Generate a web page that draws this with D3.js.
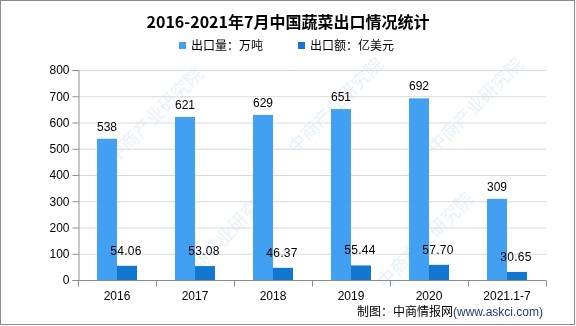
<!DOCTYPE html>
<html><head><meta charset="utf-8">
<script src="https://cdn.jsdelivr.net/npm/d3@7"></script>
<style>body{margin:0;background:#fff}svg{display:block}</style>
</head><body>
<svg id="c" width="576" height="326"></svg>
<script>
const categories = ["2016","2017","2018","2019","2020","2021.1-7"];
const volume = [538,621,629,651,692,309];
const value = [54.06,53.08,46.37,55.44,57.70,30.65];
const valueLabels = ["54.06","53.08","46.37","55.44","57.70","30.65"];
const yTicks = [0,100,200,300,400,500,600,700,800];
const seriesNames = ["出口量：万吨","出口额：亿美元"];
const title = "2016-2021年7月中国蔬菜出口情况统计";

const svg = d3.select("#c");
const W = 576, H = 326;
const m = {l:78, r:30, t:70, b:46};
const colors = ["#41a0f2","#1177d1"];
const font = "'Liberation Sans', Arial, sans-serif";
const cjk = "'Noto Sans CJK SC', sans-serif";

// watermarks
const wm = [[160,120],[230,240],[430,245],[340,110],[480,110]];
const wg = svg.append("g").attr("opacity",0.13);
wm.forEach(([x,y])=>{
  wg.append("text").attr("transform",`translate(${x},${y}) rotate(-45)`)
    .attr("text-anchor","middle").attr("font-family",cjk)
    .attr("font-size",18).attr("fill","#3a8fd0").text("中商产业研究院");
});

const x = d3.scaleBand().domain(categories).range([m.l, W-m.r]).paddingInner(0).paddingOuter(0);
const y = d3.scaleLinear().domain([0,800]).range([H-m.b, m.t]);
const bw = 20;

// grid
svg.append("g").selectAll("line").data(yTicks.slice(1)).join("line")
  .attr("x1",m.l).attr("x2",W-m.r).attr("y1",d=>y(d)+0.5).attr("y2",d=>y(d)+0.5)
  .attr("stroke","#d9d9d9");

// bars
svg.append("g").selectAll("rect").data(volume).join("rect")
  .attr("x",(d,i)=>x(categories[i])+x.bandwidth()/2-bw).attr("width",bw)
  .attr("y",d=>y(d)).attr("height",d=>y(0)-y(d)).attr("fill",colors[0]);
svg.append("g").selectAll("rect").data(value).join("rect")
  .attr("x",(d,i)=>x(categories[i])+x.bandwidth()/2).attr("width",bw)
  .attr("y",d=>y(d)).attr("height",d=>y(0)-y(d)).attr("fill",colors[1]);

// labels
svg.append("g").selectAll("text").data(volume).join("text")
  .attr("x",(d,i)=>x(categories[i])+x.bandwidth()/2-bw/2).attr("y",d=>y(d)-8)
  .attr("text-anchor","middle").attr("font-family",font).attr("font-size",12).attr("fill","#000")
  .text(d=>d);
svg.append("g").selectAll("text").data(value).join("text")
  .attr("x",(d,i)=>x(categories[i])+x.bandwidth()/2+bw/2-1).attr("y",d=>y(d)-11)
  .attr("text-anchor","middle").attr("font-family",font).attr("font-size",12).attr("fill","#000")
  .attr("letter-spacing","0.3px")
  .text((d,i)=>valueLabels[i]);

// y axis
const ya = svg.append("g").attr("transform",`translate(${m.l+0.5},0)`)
  .call(d3.axisLeft(y).tickValues(yTicks).tickSize(6).tickPadding(3));
ya.selectAll("path,line").attr("stroke","#8c8c8c");
ya.selectAll("text").attr("font-family",font).attr("font-size",12).attr("fill","#000");

// x axis
const xa = svg.append("g").attr("transform",`translate(0,${y(0)+0.5})`);
xa.append("line").attr("x1",m.l).attr("x2",W-m.r).attr("stroke","#8c8c8c");
xa.selectAll("line.t").data(categories.concat(["end"])).join("line").attr("class","t")
  .attr("x1",(d,i)=>m.l+i*x.bandwidth()+0.5).attr("x2",(d,i)=>m.l+i*x.bandwidth()+0.5)
  .attr("y1",0).attr("y2",6).attr("stroke","#8c8c8c");
xa.selectAll("text").data(categories).join("text")
  .attr("x",d=>x(d)+x.bandwidth()/2).attr("y",19)
  .attr("text-anchor","middle").attr("font-family",font).attr("font-size",12).attr("fill","#000")
  .text(d=>d);

// title
svg.append("text").attr("x",288).attr("y",28).attr("text-anchor","middle")
  .attr("font-family",cjk).attr("font-weight","bold").attr("font-size",16).attr("fill","#000")
  .text(title);

// legend
const lx = [179,298];
seriesNames.forEach((n,i)=>{
  svg.append("rect").attr("x",lx[i]).attr("y",42).attr("width",7).attr("height",7).attr("fill",colors[i]);
  svg.append("text").attr("x",lx[i]+12).attr("y",50).attr("font-family",cjk).attr("font-size",12)
    .attr("fill","#000").text(n);
});

// source
const st = svg.append("text").attr("x",543).attr("y",316).attr("text-anchor","end")
  .attr("font-family",cjk).attr("font-size",12).attr("fill","#000");
st.append("tspan").text("制图：中商情报网");
st.append("tspan").attr("fill","#1f3c7a").attr("font-family",font).text("(www.askci.com)");

// frame
svg.append("rect").attr("x",0.5).attr("y",0.5).attr("width",W-2).attr("height",H-2)
  .attr("fill","none").attr("stroke","#8a8a8a");
</script>
</body></html>
